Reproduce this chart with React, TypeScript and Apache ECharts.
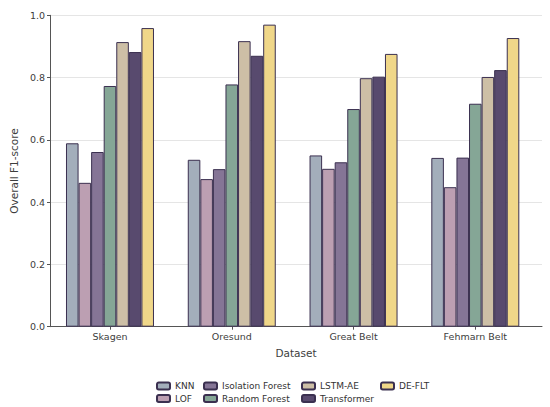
import React, { useEffect, useRef } from "react";
import * as echarts from "echarts";

const categories = ["Skagen", "Oresund", "Great Belt", "Fehmarn Belt"];
const seriesNames = ["KNN", "LOF", "Isolation Forest", "Random Forest", "LSTM-AE", "Transformer", "DE-FLT"];
const knn = [0.589, 0.536, 0.55, 0.542];
const lof = [0.462, 0.474, 0.507, 0.448];
const isolationForest = [0.561, 0.506, 0.528, 0.543];
const randomForest = [0.773, 0.778, 0.699, 0.716];
const lstmAe = [0.914, 0.917, 0.798, 0.802];
const transformer = [0.882, 0.87, 0.803, 0.824];
const deFlt = [0.959, 0.97, 0.876, 0.927];
const yTicks = [0, 0.2, 0.4, 0.6, 0.8, 1.0];

const seriesValues = [knn, lof, isolationForest, randomForest, lstmAe, transformer, deFlt];
const colors = ["#a3aebb", "#bc9fb2", "#857596", "#85a696", "#cdbfa6", "#584a6e", "#f0d789"];

// legend layout: column-major, 2 rows
const legendPos = [
  { left: 156, top: 381.5 },
  { left: 156, top: 394 },
  { left: 203, top: 381.5 },
  { left: 203, top: 394 },
  { left: 301, top: 381.5 },
  { left: 301, top: 394 },
  { left: 380, top: 381.5 },
];

export default function App() {
  const ref = useRef<HTMLDivElement>(null);
  useEffect(() => {
    if (!ref.current) return;
    const chart = echarts.init(ref.current, null, { renderer: "svg" });
    const font = "DejaVu Sans";
    const option: any = {
      animation: false,
      backgroundColor: "#ffffff",
      textStyle: { fontFamily: font },
      grid: [
        { left: 43, right: 8, top: 15.3, bottom: 80.3 },
        { left: 49.1, right: 13.8, top: 15.3, bottom: 80.3 },
      ],
      xAxis: [
        {
          type: "value",
          gridIndex: 0,
          min: 0,
          max: 1,
          axisLine: { show: true, lineStyle: { color: "#555555", width: 1 } },
          axisTick: { show: false },
          axisLabel: { show: false },
          splitLine: { show: false },
          name: "Dataset",
          nameLocation: "middle",
          nameGap: 21,
          nameTextStyle: { fontSize: 10.5, color: "#3d3d3d", fontFamily: font },
        },
        {
          type: "category",
          gridIndex: 1,
          data: categories,
          boundaryGap: true,
          axisLine: { show: false },
          axisTick: { show: true, alignWithLabel: true, length: 3, lineStyle: { color: "#555555" } },
          axisLabel: { fontSize: 9.5, color: "#3d3d3d", margin: 5, fontFamily: font },
          splitLine: { show: false },
        },
      ],
      yAxis: [
        {
          type: "value",
          gridIndex: 0,
          min: 0,
          max: 1,
          interval: 0.2,
          axisLine: { show: true, lineStyle: { color: "#555555", width: 1 } },
          axisTick: { show: true, length: 3, lineStyle: { color: "#555555" } },
          axisLabel: {
            fontSize: 9.5,
            color: "#3d3d3d",
            margin: 5,
            fontFamily: font,
            formatter: (v: number) => (yTicks.some((t) => Math.abs(t - v) < 1e-9) ? v.toFixed(1) : ""),
          },
          splitLine: { show: true, lineStyle: { color: "#e5e5e5", width: 1 } },
          name: "Overall F1-score",
          nameLocation: "middle",
          nameGap: 31,
          nameTextStyle: { fontSize: 10.5, color: "#3d3d3d", fontFamily: font },
        },
        {
          type: "value",
          gridIndex: 1,
          min: 0,
          max: 1,
          show: false,
          splitLine: { show: false },
        },
      ],
      legend: seriesNames.map((name, i) => ({
        data: [name],
        left: legendPos[i].left,
        top: legendPos[i].top,
        padding: 0,
        itemWidth: 13,
        itemHeight: 7,
        itemGap: 0,
        selectedMode: false,
        textStyle: { fontSize: 9, color: "#333333", fontFamily: font },
      })),
      series: seriesNames.map((name, i) => ({
        name,
        type: "bar",
        xAxisIndex: 1,
        yAxisIndex: 1,
        data: seriesValues[i],
        barWidth: 12.57,
        barGap: "0%",
        itemStyle: { color: colors[i], borderColor: "#3b3050", borderWidth: 1 },
      })),
    };
    chart.setOption(option);
    return () => chart.dispose();
  }, []);
  return (
    <div
      ref={ref}
      style={{ position: "fixed", left: 0, top: 0, width: 550, height: 407 }}
    />
  );
}
